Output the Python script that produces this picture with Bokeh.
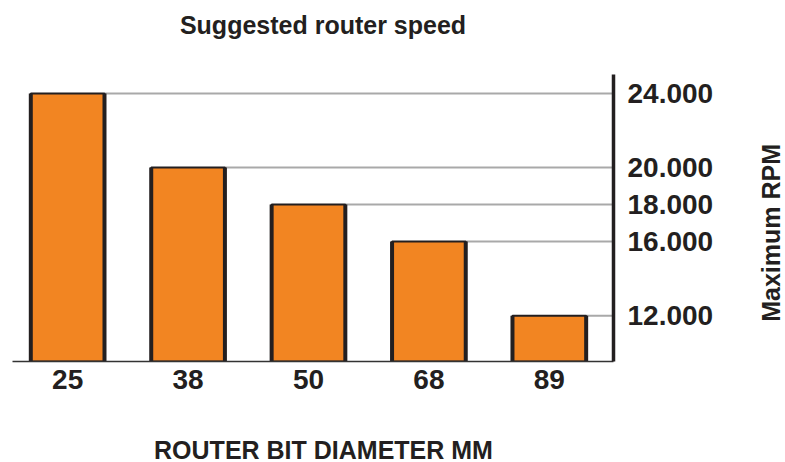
import math
from bokeh.plotting import figure
from bokeh.layouts import column, row
from bokeh.models import Range1d, FixedTicker
from bokeh.core.properties import value
from bokeh.embed import file_html
from bokeh.resources import INLINE

# ---- data ----
diameters = ["25", "38", "50", "68", "89"]
rpm = [24000, 20000, 18000, 16000, 12000]
y_ticks = [12000, 16000, 18000, 20000, 24000]
y_tick_labels = ["12.000", "16.000", "18.000", "20.000", "24.000"]

title_text = "Suggested router speed"
x_title = "ROUTER BIT DIAMETER MM"
y_title = "Maximum RPM"

ORANGE = "#F28522"
DARK = "#231F20"
GRID = "#A9A9A9"
FONT = "Liberation Sans"

xs = list(range(len(diameters)))
bar_w = 0.612
y0 = 9530
y1 = 25020
x_start, x_end = -0.458, 4.533

# ---- main chart ----
p = figure(width=755, height=365, output_backend="svg", toolbar_location=None,
           x_range=Range1d(x_start, x_end), y_range=Range1d(y0, y1),
           x_axis_location="below", y_axis_location="right",
           min_border_left=12, min_border_right=142, min_border_top=29, min_border_bottom=49)
p.outline_line_color = None
p.xgrid.visible = False
p.ygrid.visible = False
p.background_fill_color = "white"
p.border_fill_color = "white"

# reference lines from each bar's right edge to the axis
p.segment(x0=[x + bar_w / 2 for x in xs], y0=rpm, x1=[x_end] * len(xs), y1=rpm,
          line_color=GRID, line_width=2)

# bars
p.vbar(x=xs, top=rpm, bottom=y0, width=bar_w, fill_color=ORANGE,
       line_color=DARK, line_width=2)
# thicker side edges
p.segment(x0=[x - bar_w / 2 for x in xs], y0=[y0] * len(xs), x1=[x - bar_w / 2 for x in xs], y1=rpm,
          line_color=DARK, line_width=4)
p.segment(x0=[x + bar_w / 2 for x in xs], y0=[y0] * len(xs), x1=[x + bar_w / 2 for x in xs], y1=rpm,
          line_color=DARK, line_width=4)

# x axis
xa = p.xaxis[0]
xa.ticker = FixedTicker(ticks=xs)
xa.major_label_overrides = {x: d for x, d in zip(xs, diameters)}
xa.major_tick_in = 0
xa.major_tick_out = 0
xa.minor_tick_in = 0
xa.minor_tick_out = 0
xa.axis_line_color = "#333333"
xa.axis_line_width = 1.5
xa.major_label_standoff = 8
xa.major_label_text_font = FONT
xa.major_label_text_font_style = "bold"
xa.major_label_text_font_size = "28px"
xa.major_label_text_color = DARK

# y axis (right)
ya = p.yaxis[0]
ya.ticker = FixedTicker(ticks=y_ticks)
ya.major_label_overrides = {t: l for t, l in zip(y_ticks, y_tick_labels)}
ya.major_tick_in = 0
ya.major_tick_out = 0
ya.minor_tick_in = 0
ya.minor_tick_out = 0
ya.axis_line_color = DARK
ya.axis_line_width = 3.5
ya.major_label_standoff = 14
ya.major_label_text_font = FONT
ya.major_label_text_font_style = "bold"
ya.major_label_text_font_size = "28px"
ya.major_label_text_color = DARK


# ---- text panels (title, axis titles) ----
def text_panel(w, h):
    f = figure(width=w, height=h, output_backend="svg", toolbar_location=None,
               x_range=Range1d(0, w), y_range=Range1d(h, 0), min_border=0,
               x_axis_type=None, y_axis_type=None)
    f.outline_line_color = None
    f.xgrid.visible = False
    f.ygrid.visible = False
    f.background_fill_color = "white"
    f.border_fill_color = "white"
    return f


txt_style = dict(text_font=value(FONT), text_font_style="bold", text_font_size="25px",
                 text_color=DARK, text_align="center", text_baseline="alphabetic")

top = text_panel(785, 45)
top.text(x=[322.5], y=[24], text=[title_text], **txt_style)

right = text_panel(30, 365)
right.text(x=[15], y=[201.5], text=[y_title], angle=math.pi / 2, **txt_style)

bottom = text_panel(785, 52)
bottom.text(x=[323], y=[39], text=[x_title], **txt_style)

layout = column(top, row(p, right, spacing=0), bottom, spacing=0)

open("out.html", "w").write(file_html(layout, INLINE))
